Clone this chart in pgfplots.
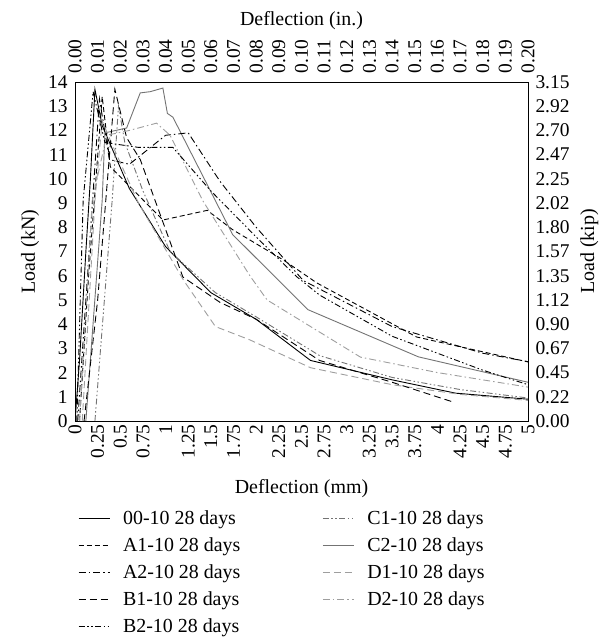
\documentclass[border=0pt]{standalone}
\usepackage{fontspec}
\setmainfont{Liberation Serif}
\usepackage{pgfplots}
\pgfplotsset{compat=1.18}
\usetikzlibrary{calc}

\tikzset{
  s00/.style={black},
  sA1/.style={black, dash pattern=on 5bp off 3bp},
  sA2/.style={black, dash pattern=on 7bp off 3bp on 1.5bp off 3bp},
  sB1/.style={black, dash pattern=on 7bp off 4bp},
  sB2/.style={black, dash pattern=on 6bp off 2.5bp on 1.5bp off 2.5bp on 1.5bp off 2.5bp},
  sC1/.style={black!55, dash pattern=on 6bp off 2.5bp on 1.5bp off 2.5bp on 1.5bp off 2.5bp},
  sC2/.style={black!55},
  sD1/.style={black!38, dash pattern=on 7bp off 4bp},
  sD2/.style={black!38, dash pattern=on 7bp off 3bp on 1.5bp off 3bp},
}

\pgfplotsset{
  common/.style={
    scale only axis, width=453bp, height=339bp,
    xmin=0, xmax=5, ymin=0, ymax=14,
    xtick={0,0.25,...,5}, ytick={0,1,...,14},
    major tick length=0pt,
    /pgf/number format/assume math mode=true,
    tick label style={font=\fontsize{19.5}{22}\selectfont},
    label style={font=\fontsize{20}{24}\selectfont},
    axis line style={line width=0.9bp},
  },
}

\begin{document}
\begin{tikzpicture}
\begin{axis}[common, name=ax,
  xtick pos=bottom, ytick pos=left,
  xticklabels={0,0.25,0.5,0.75,1,1.25,1.5,1.75,2,2.25,2.5,2.75,3,3.25,3.5,3.75,4,4.25,4.5,4.75,5},
  xticklabel style={rotate=90, anchor=east},
  yticklabel style={xshift=-4bp},
  xlabel={Deflection (mm)}, ylabel={Load (kN)},
  xlabel style={yshift=-14bp}, ylabel style={yshift=2bp},
  every axis plot/.append style={line width=0.9bp},
  legend columns=2,
  legend cell align=left,
  legend style={at={(0.0,-0.252)}, anchor=north west, draw=none,
    font=\fontsize{20}{24}\selectfont, row sep=7.8bp,
    /tikz/every odd column/.append style={column sep=11bp},
    /tikz/every even column/.append style={column sep=80bp}},
  legend image code/.code={\draw[#1] (0bp,0bp) -- (31bp,0bp);},
]
% 00-10 28 days
\addplot[s00] coordinates {(0,0) (0.05,2.5) (0.12,7) (0.17,10) (0.22,13.7) (0.3,12.2) (0.6,9.6) (1.0,7.2) (1.5,5.3) (2.0,4.2) (2.6,2.5) (3.5,1.7) (4.2,1.15) (5,0.9)};
\addlegendentry{00-10 28 days}
% C1-10 28 days
\addplot[sC1] coordinates {(0.22,0) (0.41,9.1) (0.48,13.0) (0.55,11.5) (0.75,9.5) (1.05,7.0) (1.55,5.3) (2.0,4.3) (2.7,2.7) (3.5,1.8) (4.25,1.3) (5,0.95)};
\addlegendentry{C1-10 28 days}
% A1-10 28 days
\addplot[sA1] coordinates {(0.05,0) (0.15,6) (0.3,13.4) (0.39,10.5) (0.97,8.3) (1.46,8.7) (1.74,7.9) (2.3,6.65) (2.67,5.7) (3.77,3.47) (5,2.44)};
\addlegendentry{A1-10 28 days}
% C2-10 28 days
\addplot[sC2] coordinates {(0.12,0) (0.3,9.1) (0.33,11.9) (0.57,12.1) (0.72,13.55) (0.83,13.6) (0.97,13.75) (1.02,12.7) (1.08,12.55) (1.74,7.7) (2.57,4.6) (3.79,2.65) (5,1.6)};
\addlegendentry{C2-10 28 days}
% A2-10 28 days
\addplot[sA2] coordinates {(0.03,0) (0.12,5) (0.27,13.3) (0.38,10.8) (0.6,10.6) (1.0,11.8) (1.25,11.9) (1.6,9.9) (2.0,8.0) (2.52,5.8) (3.5,3.9) (4.5,2.8) (5,2.45)};
\addlegendentry{A2-10 28 days}
% D1-10 28 days
\addplot[sD1] coordinates {(0.08,0) (0.22,9.1) (0.3,12.4) (0.4,11.5) (0.7,9.0) (1.2,5.8) (1.55,3.9) (1.93,3.35) (2.6,2.2) (3.5,1.5) (4.25,1.1) (5,0.85)};
\addlegendentry{D1-10 28 days}
% B1-10 28 days
\addplot[sB1] coordinates {(0.1,0) (0.25,5) (0.44,13.7) (0.57,11.7) (0.72,10.8) (1.19,5.95) (1.6,4.9) (2.0,4.2) (2.7,2.5) (3.5,1.6) (4.16,0.8)};
\addlegendentry{B1-10 28 days}
% D2-10 28 days
\addplot[sD2] coordinates {(0.05,0) (0.19,9.1) (0.35,11.8) (0.6,12.0) (0.9,12.3) (1.05,11.8) (1.41,9.1) (1.93,6.0) (2.12,5.0) (3.15,2.64) (4.0,2.0) (5,1.4)};
\addlegendentry{D2-10 28 days}
% B2-10 28 days
\addplot[sB2] coordinates {(0.02,0) (0.09,9.1) (0.2,13.6) (0.33,11.5) (0.7,11.3) (1.08,11.3) (1.5,9.5) (2.0,7.6) (2.45,5.95) (2.7,5.2) (3.5,3.5) (4.5,2.1) (5,1.5)};
\addlegendentry{B2-10 28 days}
\end{axis}
\begin{axis}[common,
  axis x line*=top, axis y line*=right,
  xticklabels={0.00,0.01,0.02,0.03,0.04,0.05,0.06,0.07,0.08,0.09,0.10,0.11,0.12,0.13,0.14,0.15,0.16,0.17,0.18,0.19,0.20},
  xticklabel style={rotate=90, anchor=west},
  xticklabel shift=5bp,
  yticklabels={0.00,0.22,0.45,0.67,0.90,1.12,1.35,1.57,1.80,2.02,2.25,2.47,2.70,2.92,3.15},
  yticklabel style={xshift=4bp},
  xlabel={Deflection (in.)}, ylabel={Load (kip)},
  xlabel style={yshift=3bp}, ylabel style={yshift=-4bp},
]
\end{axis}
\pgfresetboundingbox
\useasboundingbox ($(ax.south west)+(-75bp,-218bp)$) rectangle ($(ax.north east)+(79bp,82bp)$);
\end{tikzpicture}
\end{document}
